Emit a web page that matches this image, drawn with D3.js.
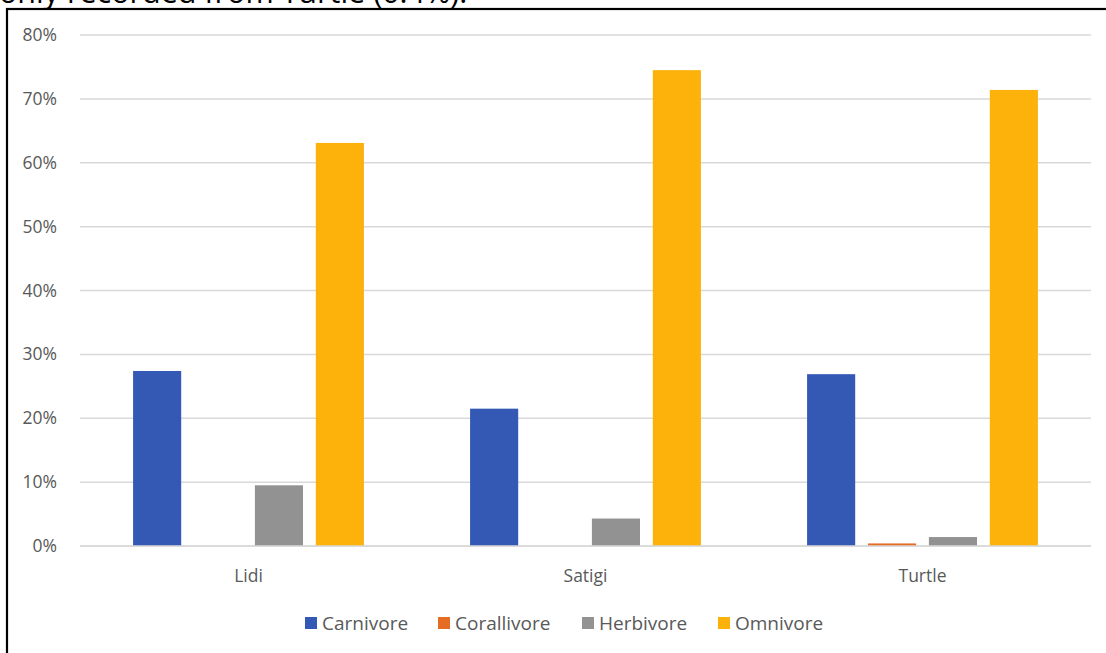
<!DOCTYPE html>
<html>
<head>
<meta charset="utf-8">
<script src="https://cdn.jsdelivr.net/npm/d3@7"></script>
<style>
  html, body { margin: 0; padding: 0; background: #fff; }
  svg { display: block; }
</style>
</head>
<body>
<svg id="chart" width="1106" height="653"></svg>
<script>
const categories = ["Lidi", "Satigi", "Turtle"];
const seriesNames = ["Carnivore", "Corallivore", "Herbivore", "Omnivore"];
const carnivore = [27.4, 21.5, 26.9];
const corallivore = [0, 0, 0.4];
const herbivore = [9.5, 4.3, 1.4];
const omnivore = [63.1, 74.5, 71.4];
const yTicks = [0, 10, 20, 30, 40, 50, 60, 70, 80];
const colors = ["#3459b4", "#e46c23", "#929292", "#fdb20b"];
const captionText = "only recorded from Turtle (0.4%).";

const seriesValues = [carnivore, corallivore, herbivore, omnivore];
const svg = d3.select("#chart");
const W = 1106, H = 653;
const font = "'Open Sans', sans-serif";

// frame
svg.append("rect").attr("x", 7).attr("y", 9).attr("width", W).attr("height", H)
  .attr("fill", "#fff").attr("stroke", "#000").attr("stroke-width", 2.2);

// caption (cut text above frame)
svg.append("text").attr("x", -1).attr("y", 3)
  .attr("font-family", font).attr("font-size", 30.5)
  .attr("fill", "#000").text(captionText);

const plot = { left: 80, right: 1091, top: 35, bottom: 546 };

const y = d3.scaleLinear().domain([0, 80]).range([plot.bottom, plot.top]);
const x0 = d3.scaleBand().domain(categories).range([plot.left, plot.right])
  .paddingInner(0.315).paddingOuter(0.1575);
const x1 = d3.scaleBand().domain(seriesNames).range([0, x0.bandwidth()])
  .paddingInner(0.21).paddingOuter(0);

// gridlines
svg.append("g").selectAll("line").data(yTicks).join("line")
  .attr("x1", plot.left).attr("x2", plot.right)
  .attr("y1", d => y(d)).attr("y2", d => y(d))
  .attr("stroke", "#d9d9d9").attr("stroke-width", 1.5);

// y labels
const yAxis = d3.axisLeft(y).tickValues(yTicks).tickFormat(d => d + "%").tickSize(0).tickPadding(0);
const ya = svg.append("g").attr("transform", "translate(57,0)").call(yAxis);
ya.select(".domain").remove();
ya.selectAll("text").attr("font-family", font).attr("font-size", 17.5).attr("fill", "#595959");

// bars
const groups = svg.append("g").selectAll("g").data(categories).join("g")
  .attr("transform", d => `translate(${x0(d)},0)`);
groups.selectAll("rect")
  .data((c, i) => seriesNames.map((s, j) => ({ s, v: seriesValues[j][i], c: colors[j] })))
  .join("rect")
  .attr("x", d => x1(d.s))
  .attr("width", x1.bandwidth())
  .attr("y", d => y(d.v))
  .attr("height", d => plot.bottom - y(d.v))
  .attr("fill", d => d.c);

// baseline
svg.append("line").attr("x1", plot.left).attr("x2", plot.right)
  .attr("y1", plot.bottom).attr("y2", plot.bottom)
  .attr("stroke", "#d9d9d9").attr("stroke-width", 1.5);

// x labels
const xAxis = d3.axisBottom(x0).tickSize(0).tickPadding(0);
const xa = svg.append("g").attr("transform", "translate(0,570)").call(xAxis);
xa.select(".domain").remove();
xa.selectAll("text").attr("font-family", font).attr("font-size", 17.5).attr("fill", "#595959");

// legend
const legendX = [305, 438, 582, 718];
const lg = svg.append("g").selectAll("g").data(seriesNames).join("g")
  .attr("transform", (d, i) => `translate(${legendX[i]},617)`);
lg.append("rect").attr("width", 12).attr("height", 12).attr("fill", (d, i) => colors[i]);
lg.append("text").attr("x", 17).attr("y", 13)
  .attr("font-family", font).attr("font-size", 19).attr("fill", "#595959").text(d => d);
</script>
</body>
</html>
